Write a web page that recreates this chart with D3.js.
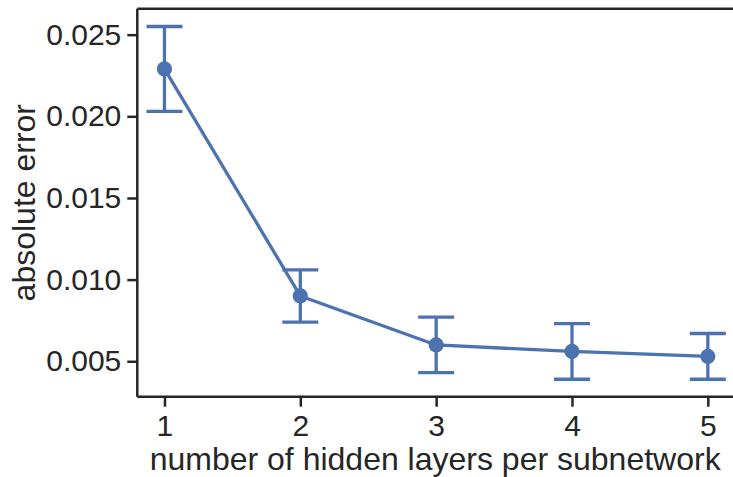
<!DOCTYPE html>
<html>
<head>
<meta charset="utf-8">
<script src="https://cdn.jsdelivr.net/npm/d3@7"></script>
<style>
  html, body { margin: 0; padding: 0; background: #fff; }
  svg { display: block; }
  text { font-family: "Liberation Sans", Arial, sans-serif; fill: #262626; }
</style>
</head>
<body>
<script>
const layers = [1, 2, 3, 4, 5];
const meanError = [0.0229, 0.0090, 0.0060, 0.0056, 0.0053];
const lowerError = [0.0203, 0.0074, 0.0043, 0.0039, 0.0039];
const upperError = [0.0255, 0.0106, 0.0077, 0.0073, 0.0067];
const yTicks = [0.005, 0.010, 0.015, 0.020, 0.025];
const xTicks = [1, 2, 3, 4, 5];
const xLabel = "number of hidden layers per subnetwork";
const yLabel = "absolute error";

const W = 733, H = 477;
const color = "#4c72b0";
const ink = "#262626";
const lw = 3.3;

const svg = d3.select("body").append("svg").attr("width", W).attr("height", H);

const x = d3.scaleLinear().domain([0.8, 5.2]).range([137.3, 735]);
const y = d3.scaleLinear().domain([0.00283, 0.02659]).range([396.7, 8.7]);

const data = layers.map((l, i) => ({ l, m: meanError[i], lo: lowerError[i], hi: upperError[i] }));

// error bars
const eb = svg.append("g");
const capHalf = 18;
data.forEach(d => {
  eb.append("line").attr("x1", x(d.l)).attr("x2", x(d.l)).attr("y1", y(d.lo)).attr("y2", y(d.hi))
    .attr("stroke", color).attr("stroke-width", lw);
  [d.lo, d.hi].forEach(v => {
    eb.append("line").attr("x1", x(d.l) - capHalf).attr("x2", x(d.l) + capHalf).attr("y1", y(v)).attr("y2", y(v))
      .attr("stroke", color).attr("stroke-width", lw);
  });
});

// line
svg.append("path").datum(data)
  .attr("d", d3.line().x(d => x(d.l)).y(d => y(d.m)))
  .attr("fill", "none").attr("stroke", color).attr("stroke-width", lw).attr("stroke-linejoin", "round");

// points
svg.append("g").selectAll("circle").data(data).join("circle")
  .attr("cx", d => x(d.l)).attr("cy", d => y(d.m)).attr("r", 7.6).attr("fill", color);

// axes
const yAxis = d3.axisLeft(y).tickValues(yTicks).tickFormat(d3.format(".3f")).tickSize(10).tickPadding(6);
const xAxis = d3.axisBottom(x).tickValues(xTicks).tickFormat(d3.format("d")).tickSize(10).tickPadding(8);

const gy = svg.append("g").attr("transform", `translate(${x.range()[0]},0)`).call(yAxis);
const gx = svg.append("g").attr("transform", `translate(0,${y.range()[0]})`).call(xAxis);
[gx, gy].forEach(g => {
  g.selectAll(".domain").attr("stroke", ink).attr("stroke-width", 2.5);
  g.selectAll(".tick line").attr("stroke", ink).attr("stroke-width", 2.5);
  g.selectAll(".tick text").attr("font-size", 30).attr("fill", ink)
    .style("font-family", '"Liberation Sans", Arial, sans-serif');
});
gy.select(".domain").attr("d", `M0,${y.range()[1]}V${y.range()[0]}`);
gx.select(".domain").attr("d", `M${x.range()[0]},0H${x.range()[1]}`);

// top spine
svg.append("line").attr("x1", x.range()[0]).attr("x2", x.range()[1])
  .attr("y1", y.range()[1]).attr("y2", y.range()[1])
  .attr("stroke", ink).attr("stroke-width", 2.5);

// labels
svg.append("text").attr("x", (x.range()[0] + 735) / 2 - 1).attr("y", 470)
  .attr("text-anchor", "middle").attr("font-size", 32).text(xLabel);
svg.append("text").attr("transform", `translate(35,${(y.range()[0] + y.range()[1]) / 2}) rotate(-90)`)
  .attr("text-anchor", "middle").attr("font-size", 32).text(yLabel);
</script>
</body>
</html>
